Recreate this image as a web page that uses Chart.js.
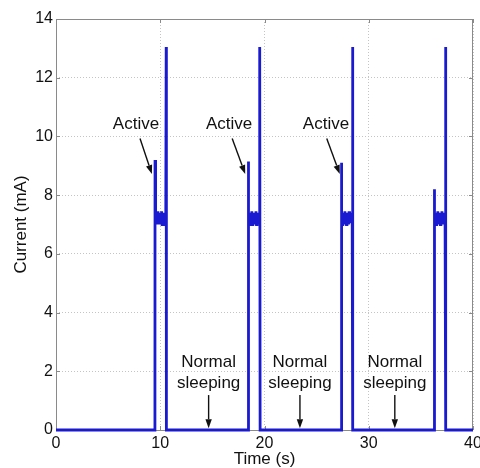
<!DOCTYPE html>
<html>
<head>
<meta charset="utf-8">
<script src="https://cdn.jsdelivr.net/npm/chart.js@4"></script>
<style>
  html, body { margin: 0; padding: 0; background: #fff; }
  #wrap { width: 480px; height: 468px; }
</style>
</head>
<body>
<div id="wrap"><canvas id="currentChart" width="480" height="468"></canvas></div>
<script>
// current trace (time in s, current in mA)
const pulse1T = [9.49, 9.5, 9.53, 9.58, 9.63, 9.68, 9.73, 9.78, 9.83, 9.88, 9.93, 9.98, 10.03, 10.08, 10.13, 10.18, 10.23, 10.28, 10.33, 10.38, 10.43, 10.48, 10.53, 10.57, 10.59];
const pulse1I = [0, 9.2, 7.3, 7.0, 7.4, 7.1, 7.45, 7.0, 7.35, 7.1, 7.4, 7.05, 7.35, 7.1, 7.45, 7.0, 7.3, 7.15, 7.4, 7.0, 7.35, 7.1, 7.25, 13.05, 0];
const pulse2T = [18.44, 18.45, 18.48, 18.53, 18.58, 18.63, 18.68, 18.73, 18.78, 18.83, 18.88, 18.93, 18.98, 19.03, 19.08, 19.13, 19.18, 19.23, 19.28, 19.33, 19.38, 19.43, 19.48, 19.52, 19.56, 19.58];
const pulse2I = [0, 9.15, 7.25, 7.05, 7.4, 7.0, 7.35, 7.15, 7.45, 7.0, 7.3, 7.1, 7.4, 7.05, 7.35, 7.15, 7.45, 7.0, 7.3, 7.1, 7.4, 7.0, 7.35, 7.2, 13.05, 0];
const pulse3T = [27.37, 27.38, 27.41, 27.46, 27.51, 27.56, 27.61, 27.66, 27.71, 27.76, 27.81, 27.86, 27.91, 27.96, 28.01, 28.06, 28.11, 28.16, 28.21, 28.26, 28.31, 28.36, 28.41, 28.45, 28.47];
const pulse3I = [0, 9.1, 7.3, 7.0, 7.4, 7.1, 7.35, 7.05, 7.45, 7.1, 7.3, 7.0, 7.4, 7.15, 7.35, 7.0, 7.45, 7.1, 7.3, 7.05, 7.4, 7.1, 7.25, 13.05, 0];
const pulse4T = [36.28, 36.29, 36.32, 36.37, 36.42, 36.47, 36.52, 36.57, 36.62, 36.67, 36.72, 36.77, 36.82, 36.87, 36.92, 36.97, 37.02, 37.07, 37.12, 37.17, 37.22, 37.27, 37.32, 37.37, 37.39];
const pulse4I = [0, 8.2, 7.3, 7.05, 7.4, 7.0, 7.35, 7.1, 7.45, 7.05, 7.3, 7.15, 7.4, 7.0, 7.35, 7.1, 7.45, 7.05, 7.3, 7.0, 7.4, 7.15, 7.25, 13.05, 0];

const timeS = [0, ...pulse1T, ...pulse2T, ...pulse3T, ...pulse4T, 40];
const currentMA = [0, ...pulse1I, ...pulse2I, ...pulse3I, ...pulse4I, 0];

const xTicks = [0, 10, 20, 30, 40];
const yTicks = [0, 2, 4, 6, 8, 10, 12, 14];

// annotations, in data units
const activeNotes = [
   { x: 7.67, y: 10.42, fromX: 8.06, fromY: 9.93, toX: 9.2, toY: 8.72 },
   { x: 16.6, y: 10.42, fromX: 16.9, fromY: 9.93, toX: 18.15, toY: 8.72 },
   { x: 25.9, y: 10.42, fromX: 25.97, fromY: 9.93, toX: 27.22, toY: 8.72 }
];
const sleepNotes = [14.64, 23.4, 32.5];

const FONT = '"Liberation Sans", Arial, sans-serif';
const points = timeS.map((t, i) => ({ x: t, y: currentMA[i] }));

function arrow(ctx, x1, y1, x2, y2) {
   const a = Math.atan2(y2 - y1, x2 - x1);
   const len = 9, half = 3.2;
   const bx = x2 - len * Math.cos(a), by = y2 - len * Math.sin(a);
   ctx.beginPath();
   ctx.moveTo(x1, y1);
   ctx.lineTo(bx, by);
   ctx.stroke();
   ctx.beginPath();
   ctx.moveTo(x2, y2);
   ctx.lineTo(bx + half * Math.sin(a), by - half * Math.cos(a));
   ctx.lineTo(bx - half * Math.sin(a), by + half * Math.cos(a));
   ctx.closePath();
   ctx.fill();
}

// matlab style box with inward tick marks
const boxPlugin = {
   id: 'box',
   beforeDatasetsDraw(chart) {
      const { ctx, chartArea: a } = chart;
      const x = chart.scales.x, y = chart.scales.y;
      ctx.save();
      ctx.strokeStyle = '#8a8a8a';
      ctx.lineWidth = 1;
      ctx.strokeRect(a.left + 0.5, a.top + 0.5, a.right - a.left - 1, a.bottom - a.top);
      ctx.beginPath();
      x.ticks.forEach(t => {
         const px = Math.round(x.getPixelForValue(t.value)) + 0.5;
         ctx.moveTo(px, a.bottom); ctx.lineTo(px, a.bottom - 4);
         ctx.moveTo(px, a.top); ctx.lineTo(px, a.top + 4);
      });
      y.ticks.forEach(t => {
         const py = Math.round(y.getPixelForValue(t.value)) + 0.5;
         ctx.moveTo(a.left, py); ctx.lineTo(a.left + 4, py);
         ctx.moveTo(a.right, py); ctx.lineTo(a.right - 4, py);
      });
      ctx.stroke();
      ctx.restore();
   }
};

const notesPlugin = {
   id: 'notes',
   afterDatasetsDraw(chart) {
      const { ctx } = chart;
      const x = chart.scales.x, y = chart.scales.y;
      ctx.save();
      ctx.font = '17px ' + FONT;
      ctx.fillStyle = '#111';
      ctx.strokeStyle = '#111';
      ctx.lineWidth = 1.4;
      ctx.textAlign = 'center';
      ctx.textBaseline = 'middle';
      activeNotes.forEach(n => {
         ctx.fillText('Active', x.getPixelForValue(n.x), y.getPixelForValue(n.y));
         arrow(ctx, x.getPixelForValue(n.fromX), y.getPixelForValue(n.fromY),
               x.getPixelForValue(n.toX), y.getPixelForValue(n.toY));
      });
      sleepNotes.forEach(t => {
         const px = x.getPixelForValue(t);
         ctx.fillText('Normal', px, y.getPixelForValue(2.32));
         ctx.fillText('sleeping', px, y.getPixelForValue(1.6));
         arrow(ctx, px, y.getPixelForValue(1.19), px, y.getPixelForValue(0.06));
      });
      ctx.restore();
   }
};

const ctx = document.getElementById('currentChart').getContext('2d');
new Chart(ctx, {
   type: 'line',
   data: {
      datasets: [{
         data: points,
         borderColor: '#1a1ad0',
         borderWidth: 2.8,
         pointRadius: 0,
         tension: 0,
         fill: false,
         clip: 6
      }]
   },
   options: {
      responsive: false,
      animation: false,
      parsing: false,
      layout: { padding: { left: 0, right: 7, top: 19, bottom: 0 } },
      plugins: { legend: { display: false }, tooltip: { enabled: false } },
      scales: {
         x: {
            type: 'linear',
            min: 0,
            max: 40,
            afterBuildTicks: s => { s.ticks = xTicks.map(v => ({ value: v })); },
            ticks: { padding: 4, maxRotation: 0, color: '#111', font: { family: FONT, size: 16 } },
            grid: { color: '#c4c4c4', drawTicks: false },
            border: { display: false, dash: [1, 2] },
            title: { display: true, text: 'Time (s)', color: '#111', font: { family: FONT, size: 17, lineHeight: 1 }, padding: { top: 0, bottom: 0 } },
            afterFit: s => { s.height = 38; s.paddingLeft = 0; s.paddingRight = 0; }
         },
         y: {
            min: 0,
            max: 14,
            afterBuildTicks: s => { s.ticks = yTicks.map(v => ({ value: v })); },
            ticks: { padding: 3, color: '#111', font: { family: FONT, size: 16 } },
            grid: { color: '#c4c4c4', drawTicks: false },
            border: { display: false, dash: [1, 2] },
            title: { display: true, text: 'Current (mA)', color: '#111', font: { family: FONT, size: 17, lineHeight: 1 }, padding: { top: 13, bottom: 0 } },
            afterFit: s => { s.width = 56; s.paddingTop = 0; s.paddingBottom = 0; }
         }
      }
   },
   plugins: [boxPlugin, notesPlugin]
});
</script>
</body>
</html>
